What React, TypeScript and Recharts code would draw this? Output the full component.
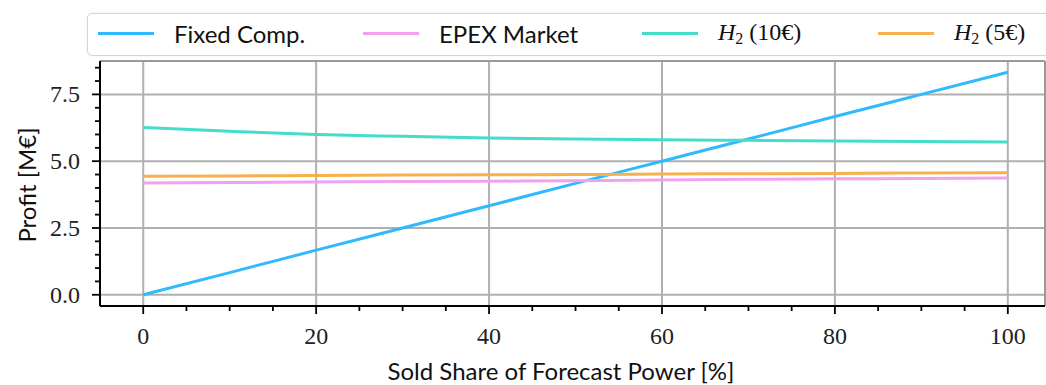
import React from 'react';
import { LineChart, Line, XAxis, YAxis, CartesianGrid, ReferenceLine } from 'recharts';

// sold share of forecast power [%]
const shares = [0, 10, 20, 30, 40, 50, 60, 70, 80, 90, 100];

// profit [M€] per strategy
const fixedComp = [0, 0.83, 1.67, 2.5, 3.33, 4.17, 5.0, 5.83, 6.67, 7.5, 8.33];
const epexMarket = [4.18, 4.2, 4.22, 4.24, 4.25, 4.27, 4.3, 4.32, 4.34, 4.35, 4.37];
const h2Price10 = [6.26, 6.12, 6.0, 5.93, 5.87, 5.83, 5.8, 5.78, 5.76, 5.74, 5.72];
const h2Price5 = [4.44, 4.45, 4.46, 4.48, 4.49, 4.5, 4.52, 4.53, 4.54, 4.56, 4.57];

const xTicks = [0, 5, 10, 15, 20, 25, 30, 35, 40, 45, 50, 55, 60, 65, 70, 75, 80, 85, 90, 95, 100];
const xMajor = [0, 20, 40, 60, 80, 100];
const yTicks = [0, 0.5, 1, 1.5, 2, 2.5, 3, 3.5, 4, 4.5, 5, 5.5, 6, 6.5, 7, 7.5, 8, 8.5];
const yMajor = [0, 2.5, 5, 7.5];

const X_DOMAIN: [number, number] = [-5, 104.3];
const Y_DOMAIN: [number, number] = [-0.42, 8.75];

const series = [
  { key: 'fixed', label: 'Fixed Comp.', color: '#30b9fc', values: fixedComp, h2: '' },
  { key: 'epex', label: 'EPEX Market', color: '#f2a0f0', values: epexMarket, h2: '' },
  { key: 'h2a', label: '', color: '#45dccc', values: h2Price10, h2: '(10€)' },
  { key: 'h2b', label: '', color: '#f6b04c', values: h2Price5, h2: '(5€)' },
];

const data = shares.map((s, i) => {
  const row: any = { share: s };
  series.forEach((sr) => (row[sr.key] = sr.values[i]));
  return row;
});

const SERIF = '"Liberation Serif", "DejaVu Serif", serif';
const SANS = 'Lato, "Open Sans", sans-serif';

const W = 1046;
const H = 385;

// legend entry offsets inside the frame
const legendLeft = [10, 275, 554, 790];

const XTick = ({ x, y, payload }: any) => {
  const major = xMajor.includes(payload.value);
  return (
    <g>
      <line x1={x} x2={x} y1={y} y2={y + (major ? 8 : 5)} stroke="#000" strokeWidth={1.8} />
      {major && (
        <text x={x} y={y + 38} textAnchor="middle" fontFamily={SERIF} fontSize={24} fill="#222">
          {payload.value}
        </text>
      )}
    </g>
  );
};

const YTick = ({ x, y, payload }: any) => {
  const major = yMajor.includes(payload.value);
  return (
    <g>
      <line x1={x} x2={x - (major ? 8 : 5)} y1={y} y2={y} stroke="#000" strokeWidth={1.8} />
      {major && (
        <text x={x - 20} y={y + 8} textAnchor="end" fontFamily={SERIF} fontSize={24} fill="#222">
          {payload.value.toFixed(1)}
        </text>
      )}
    </g>
  );
};

const LegendLabel = ({ s }: any) =>
  s.h2 ? (
    <span style={{ fontFamily: SERIF, fontSize: 24 }}>
      <i>H</i>
      <sub style={{ fontSize: 16, verticalAlign: '-4px' }}>2</sub> {s.h2}
    </span>
  ) : (
    <span style={{ fontFamily: SANS, fontSize: 24 }}>{s.label}</span>
  );

export default function App() {
  return (
    <div style={{ position: 'absolute', left: 0, top: 0, width: W, height: H, background: '#fff', overflow: 'hidden' }}>
      <LineChart width={W} height={H} data={data} margin={{ top: 61, right: 1, bottom: 0, left: 0 }}>
        <CartesianGrid verticalValues={xMajor} horizontalValues={yMajor} stroke="#b0b0b0" strokeWidth={2} />
        <XAxis
          dataKey="share"
          type="number"
          domain={X_DOMAIN}
          allowDataOverflow
          ticks={xTicks}
          interval={0}
          height={79}
          tickSize={0}
          tickMargin={0}
          tick={<XTick />}
          axisLine={{ stroke: '#000', strokeWidth: 2 }}
        />
        <YAxis
          type="number"
          domain={Y_DOMAIN}
          allowDataOverflow
          ticks={yTicks}
          interval={0}
          width={100}
          tickSize={0}
          tickMargin={0}
          tick={<YTick />}
          axisLine={{ stroke: '#000', strokeWidth: 2 }}
        />
        <ReferenceLine y={Y_DOMAIN[1]} stroke="#9a9a9a" strokeWidth={2} ifOverflow="visible" />
        <ReferenceLine x={X_DOMAIN[1]} stroke="#9a9a9a" strokeWidth={2} ifOverflow="visible" />
        {series.map((s) => (
          <Line
            key={s.key}
            dataKey={s.key}
            type="monotone"
            stroke={s.color}
            strokeWidth={3}
            dot={false}
            isAnimationActive={false}
          />
        ))}
      </LineChart>

      <div
        style={{
          position: 'absolute',
          left: 87,
          top: 13,
          width: 1000,
          height: 41,
          border: '1.5px solid #d4d4d4',
          borderRadius: 5,
          background: 'rgba(255,255,255,0.9)',
          boxShadow: '0 0 2px rgba(0,0,0,0.08)',
        }}
      >
        {series.map((s, i) => (
          <div
            key={s.key}
            style={{ position: 'absolute', left: legendLeft[i], top: 0, height: 38, display: 'flex', alignItems: 'center', color: '#111' }}
          >
            <div style={{ width: 56, height: 3, background: s.color, marginRight: 20 }} />
            <LegendLabel s={s} />
          </div>
        ))}
      </div>

      <div
        style={{
          position: 'absolute',
          left: 26,
          top: 185,
          transform: 'translate(-50%, -50%) rotate(-90deg)',
          fontFamily: SANS,
          fontSize: 24,
          whiteSpace: 'nowrap',
          color: '#111',
        }}
      >
        Profit [M€]
      </div>
      <div
        style={{
          position: 'absolute',
          left: 561,
          top: 370,
          transform: 'translate(-50%, -50%)',
          fontFamily: SANS,
          fontSize: 24,
          whiteSpace: 'nowrap',
          color: '#111',
        }}
      >
        Sold Share of Forecast Power [%]
      </div>
    </div>
  );
}
